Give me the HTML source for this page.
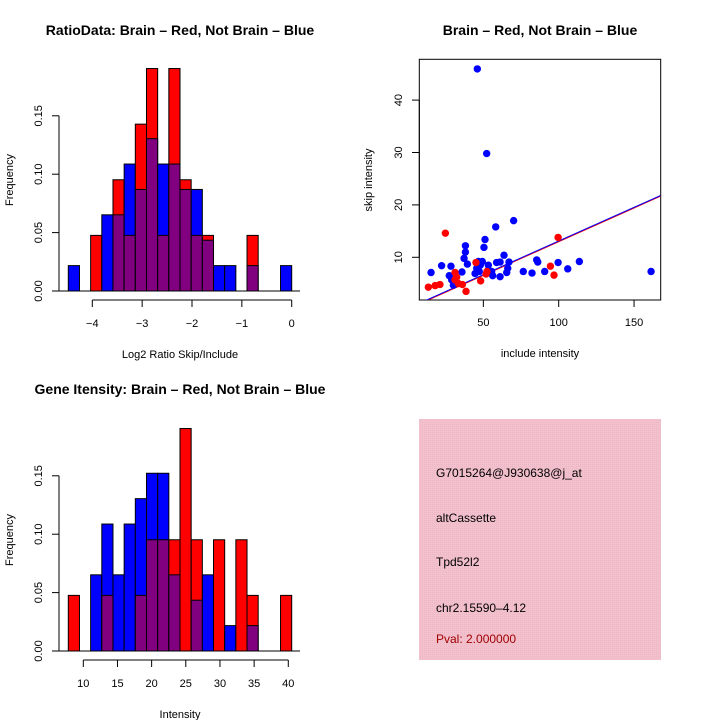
<!DOCTYPE html>
<html><head><meta charset="utf-8"><style>
body{margin:0;background:#fff}
svg{display:block;font-family:"Liberation Sans",sans-serif}
</style></head><body>
<svg id="s" width="720" height="720" viewBox="0 0 720 720">
<defs><pattern id="pk" width="2" height="2" patternUnits="userSpaceOnUse"><rect width="2" height="2" fill="#f4c0cc"/><rect width="1" height="1" fill="#e8b8c8"/></pattern></defs>
<g id="g1"></g>
<g id="g2"></g>
<g id="g3"></g>
<g>
<rect x="419" y="419" width="242" height="241" fill="url(#pk)"/>
<text x="436" y="477" font-size="12">G7015264@J930638@j_at</text>
<text x="436" y="522" font-size="12">altCassette</text>
<text x="436" y="566" font-size="12">Tpd52l2</text>
<text x="436" y="612" font-size="12">chr2.15590–4.12</text>
<text x="436" y="643" font-size="12" fill="#a00000">Pval: 2.000000</text>
</g>
</svg>
<script>
// ---- data ----
const ratioRed=[0,0,1/21,0,2/21,1/21,3/21,4/21,1/21,4/21,2/21,1/21,1/21,0,0,0,1/21,0,0,0];
const ratioBlue=[1/46,0,0,3/46,3/46,5/46,4/46,6/46,5/46,5/46,4/46,4/46,2/46,1/46,1/46,0,1/46,0,0,1/46];
const ratioTicks=[-4,-3,-2,-1,0];
const intRed=[1/21,0,0,1/21,0,0,1/21,2/21,2/21,2/21,4/21,2/21,0,2/21,0,2/21,1/21,0,0,1/21];
const intBlue=[0,0,3/46,5/46,3/46,5/46,6/46,7/46,7/46,3/46,0,2/46,3/46,0,1/46,0,1/46,0,0,0];
const intTicks=[10,15,20,25,30,35,40];
const freqTicks=[0,0.05,0.10,0.15];
const blueX=[46,52.2,70.1,58.2,51.1,50.4,38.1,38.1,37.2,39.4,15.3,22.3,28.5,27.4,29,30.1,35.8,44.5,45.6,46.7,49.3,47.3,53.3,53.3,56.2,58.8,61.1,61.1,63.7,65.5,66.2,67,76.5,82.3,85.4,86.1,90.7,99.6,106,113.7,161.3,48,55.5];
const blueY=[45.95,29.8,17,15.8,13.4,11.9,12.2,11,9.8,8.7,7.1,8.4,8.3,6.5,5.7,4.7,7.2,6.9,7.9,9.2,9.2,7.3,8.5,7.6,6.5,9,9.1,6.3,10.4,7.1,7.9,9.1,7.3,7,9.5,9.1,7.3,9,7.8,9.2,7.3,8.5,7.3];
const redX=[24.8,99.6,94.5,96.9,13.5,18,21.2,31.2,31.2,33.4,36.1,38.5,45.1,48.2,51.8,32.3,52.4];
const redY=[14.6,13.8,8.3,6.6,4.3,4.6,4.8,7.1,5.7,5.0,4.8,3.5,9.0,5.5,6.8,6.2,7.3];
const scatX=[50,100,150], scatY=[10,20,30,40];
const fitBlue=[0.26,0.1285], fitRed=[0.22,0.1285];

const NS='http://www.w3.org/2000/svg';
function mk(p,t,a){const e=document.createElementNS(NS,t);for(const k in a)e.setAttribute(k,a[k]);p.appendChild(e);return e;}

function hist(g,red,blue,ticks,x0,bw,y0,ticksLabel,title,titleY,xlab){
  const bx=i=>68.3+i*11.17;
  const sy=v=>y0-v*1168;
  const sx=v=>x0(v);
  red.forEach((r,i)=>{
    const b=blue[i];
    const hi=Math.max(r,b), lo=Math.min(r,b);
    if(hi>0){
      const e=mk(g,'rect',{x:bx(i),y:sy(hi),width:11.17,height:hi*1168,fill:r>=b?'#ff0000':'#0000ff',stroke:'#000','stroke-width':1});
      
      
    }
    if(lo>0){
      const e=mk(g,'rect',{x:bx(i),y:sy(lo),width:11.17,height:lo*1168,fill:'#800080',stroke:'#000','stroke-width':1});
      
      
    }
  });
  mk(g,'line',{x1:52,x2:300,y1:y0,y2:y0,stroke:'#000'});
  mk(g,'line',{x1:59,x2:59,y1:sy(0),y2:sy(0.15),stroke:'#000'});
  freqTicks.forEach(v=>{
    mk(g,'line',{x1:52,x2:59,y1:sy(v),y2:sy(v),stroke:'#000'});
    const t=mk(g,'text',{x:0,y:0,'font-size':11,'text-anchor':'middle',transform:`translate(42,${sy(v)}) rotate(-90)`});
    t.textContent=v.toFixed(2);
    
    
  });
  const ay=y0+9;
  mk(g,'line',{x1:sx(ticks[0]),x2:sx(ticks[ticks.length-1]),y1:ay,y2:ay,stroke:'#000'});
  ticks.forEach(v=>{
    mk(g,'line',{x1:sx(v),x2:sx(v),y1:ay,y2:ay+7,stroke:'#000'});
    const t=mk(g,'text',{x:sx(v),y:ay+27,'font-size':11,'text-anchor':'middle'});
    t.textContent=ticksLabel(v);
    
    
  });
  const yl=mk(g,'text',{'font-size':11,'text-anchor':'middle',transform:`translate(13,${y0-111}) rotate(-90)`});
  yl.textContent='Frequency';
  
  
  const xl=mk(g,'text',{x:180,y:ay+58,'font-size':11,'text-anchor':'middle'});
  xl.textContent=xlab;
  
  
  const tt=mk(g,'text',{x:180,y:titleY,'font-size':14,'font-weight':'bold','text-anchor':'middle'});
  tt.textContent=title;
  
  
}
hist(document.getElementById('g1'),ratioRed,ratioBlue,ratioTicks,v=>291.7+v*49.85,0,291,v=>String(v).replace('-','−'),'RatioData: Brain – Red, Not Brain – Blue',35,'Log2 Ratio Skip/Include');
hist(document.getElementById('g3'),intRed,intBlue,intTicks,v=>83.3+(v-10)*6.833,0,651,v=>String(v),'Gene Itensity: Brain – Red, Not Brain – Blue',394,'Intensity');

// scatter
const g2=document.getElementById('g2');
const px=v=>408+v*1.507, py=v=>257.3-(v-10)*5.24;
mk(g2,'rect',{x:419.3,y:59.3,width:241.4,height:240.7,fill:'none',stroke:'#000'});
const clip=mk(g2,'clipPath',{id:'cp'});mk(clip,'rect',{x:419.3,y:59.3,width:241.4,height:240.7});
const inner=mk(g2,'g',{'clip-path':'url(#cp)'});
[[fitRed,'#ff0000',0.5],[fitBlue,'#0000ff',0]].forEach(([f,c,o])=>{
  const l=mk(inner,'line',{x1:px(0),y1:py(f[0])+o,x2:px(180),y2:py(f[0]+f[1]*180)+o,stroke:c,'stroke-width':1});
  
  
});
blueX.forEach((x,i)=>{
  const c=mk(inner,'circle',{cx:px(x),cy:py(blueY[i]),r:3.7,fill:'#0000ff'});
  
  
});
redX.forEach((x,i)=>{
  const c=mk(inner,'circle',{cx:px(x),cy:py(redY[i]),r:3.7,fill:'#ff0000'});
  
  
});
mk(g2,'line',{x1:px(50),x2:px(150),y1:300,y2:300,stroke:'#000'});
scatX.forEach(v=>{
  mk(g2,'line',{x1:px(v),x2:px(v),y1:300,y2:307,stroke:'#000'});
  const t=mk(g2,'text',{x:px(v),y:326,'font-size':11,'text-anchor':'middle'});t.textContent=v;
  
  
});
mk(g2,'line',{x1:419.3,x2:419.3,y1:py(10),y2:py(40),stroke:'#000'});
scatY.forEach(v=>{
  mk(g2,'line',{x1:412,x2:419.3,y1:py(v),y2:py(v),stroke:'#000'});
  const t=mk(g2,'text',{'font-size':11,'text-anchor':'middle',transform:`translate(402,${py(v)}) rotate(-90)`});t.textContent=v;
  
  
});
let t=mk(g2,'text',{x:540,y:357,'font-size':11,'text-anchor':'middle'});t.textContent='include intensity';


t=mk(g2,'text',{'font-size':11,'text-anchor':'middle',transform:'translate(372,180) rotate(-90)'});t.textContent='skip intensity';


t=mk(g2,'text',{x:540,y:35,'font-size':14,'font-weight':'bold','text-anchor':'middle'});t.textContent='Brain – Red, Not Brain – Blue';


</script>
</body></html>
